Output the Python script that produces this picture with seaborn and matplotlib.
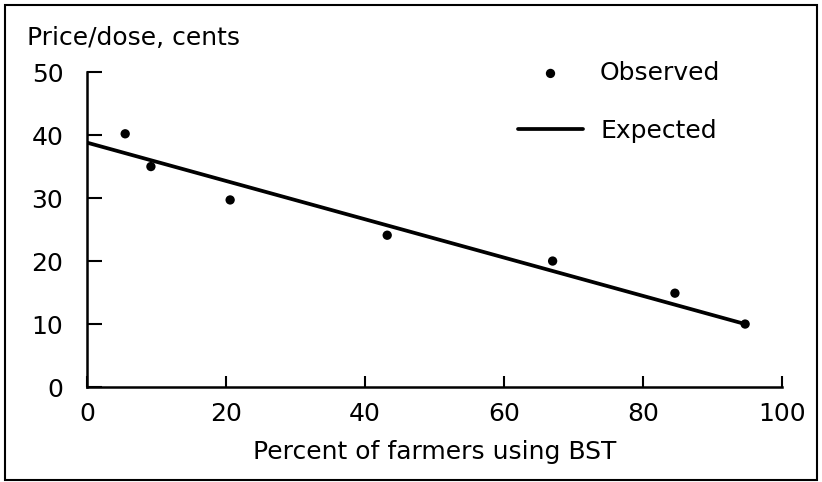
import matplotlib
matplotlib.use("Agg")
import matplotlib.pyplot as plt
import seaborn as sns
from matplotlib.patches import Rectangle

# observed price per dose vs adoption share
pct_using = [5.5, 9.2, 20.6, 43.2, 67.0, 84.6, 94.7]
price_obs = [40.2, 35.0, 29.7, 24.1, 20.0, 14.9, 10.0]

# expected (fitted) line end points
pct_fit = [0, 94.7]
price_fit = [38.8, 10.0]

x_ticks = [0, 20, 40, 60, 80, 100]
y_ticks = [0, 10, 20, 30, 40, 50]

sns.set_style("ticks")
plt.rcParams['font.family'] = ['DejaVu Sans']
plt.rcParams['text.color'] = 'black'
plt.rcParams['axes.labelcolor'] = 'black'
plt.rcParams['xtick.labelcolor'] = 'black'
plt.rcParams['ytick.labelcolor'] = 'black'

fig = plt.figure(figsize=(8.22, 4.82), dpi=100)
ax = fig.add_axes([0.1058, 0.197, 0.8455, 0.6535])

sns.scatterplot(x=pct_using, y=price_obs, ax=ax, color='black', s=45,
                edgecolor='none', label='Observed', zorder=3)
sns.lineplot(x=pct_fit, y=price_fit, ax=ax, color='black', linewidth=2.7,
             label='Expected')

ax.set_xlim(0, 100)
ax.set_ylim(0, 50)
ax.set_xticks(x_ticks)
ax.set_yticks(y_ticks)
ax.tick_params(axis='x', direction='in', length=8, width=1.5, pad=11,
               labelsize=18, color='black', labelcolor='black')
ax.tick_params(axis='y', direction='in', length=11, width=1.5, pad=17,
               labelsize=18, color='black', labelcolor='black')
for side in ['top', 'right']:
    ax.spines[side].set_visible(False)
for side in ['left', 'bottom']:
    ax.spines[side].set_linewidth(1.8)
    ax.spines[side].set_color('black')

ax.set_xlabel('Percent of farmers using BST', fontsize=18, labelpad=10,
              color='black')
ax.set_ylabel('')
fig.text(27 / 822, 1 - 45 / 482, 'Price/dose, cents', fontsize=18,
         ha='left', va='baseline', color='black')

leg = ax.legend(loc='upper left', bbox_to_anchor=(518 / 822, 1 - 61 / 482),
                bbox_transform=fig.transFigure, frameon=False, fontsize=18,
                handlelength=2.6, handletextpad=0.68, labelspacing=1.35,
                borderpad=0, borderaxespad=0)
for t in leg.get_texts():
    t.set_color('black')

# frame round the whole picture
fig.patches.append(Rectangle((5 / 822, 2 / 482), 812 / 822, 475 / 482,
                             transform=fig.transFigure, fill=False,
                             edgecolor='black', linewidth=1.5))

fig.savefig('out.png', dpi=100)
